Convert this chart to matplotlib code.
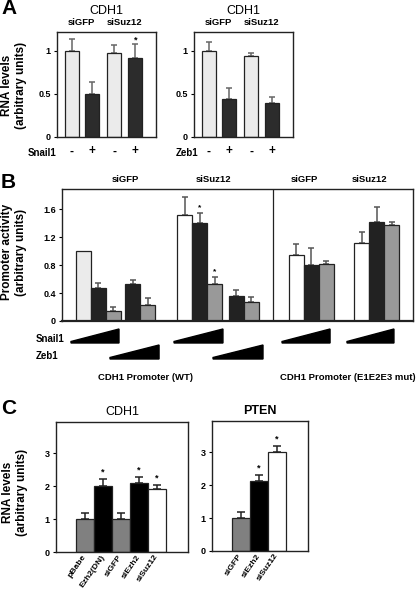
import matplotlib
matplotlib.use('Agg')
import matplotlib.pyplot as plt
from matplotlib.patches import Polygon

plt.rcParams['font.family'] = ['Liberation Sans', 'DejaVu Sans']
plt.rcParams['font.weight'] = 'bold'

# ---- data ----
# panel A: CDH1 RNA levels, siGFP -/+ and siSuz12 -/+
a_signs = ['-', '+', '-', '+']
a_snail = [1.0, 0.50, 0.98, 0.92]
a_snail_err = [0.14, 0.14, 0.09, 0.16]
a_zeb = [1.0, 0.44, 0.94, 0.40]
a_zeb_err = [0.10, 0.13, 0.04, 0.06]

# panel B: promoter activity, six bar groups
b_gfp_wt_snail = [1.0, 0.47, 0.14]
b_gfp_wt_snail_err = [0.0, 0.07, 0.06]
b_gfp_wt_zeb = [0.53, 0.23]
b_gfp_wt_zeb_err = [0.05, 0.10]
b_suz_wt_snail = [1.51, 1.40, 0.53]
b_suz_wt_snail_err = [0.26, 0.14, 0.10]
b_suz_wt_zeb = [0.36, 0.27]
b_suz_wt_zeb_err = [0.09, 0.08]
b_gfp_mut = [0.94, 0.80, 0.81]
b_gfp_mut_err = [0.16, 0.24, 0.05]
b_suz_mut = [1.11, 1.41, 1.37]
b_suz_mut_err = [0.16, 0.22, 0.04]

# panel C
c_labels = ['pBabe', 'Ezh2(DN)', 'siGFP', 'siEzh2', 'siSuz12']
c_cdh1 = [1.0, 2.0, 1.0, 2.1, 1.9]
c_cdh1_err = [0.18, 0.20, 0.18, 0.17, 0.13]
pten_labels = ['siGFP', 'siEzh2', 'siSuz12']
c_pten = [1.0, 2.12, 3.0]
c_pten_err = [0.17, 0.18, 0.18]

W, H = 416, 592
fig = plt.figure(figsize=(W / 100, H / 100), dpi=100)


def box(x0, y0, x1, y1):
    # pixel box -> figure fraction rect
    return [x0 / W, 1 - y1 / H, (x1 - x0) / W, (y1 - y0) / H]


def ftext(x, y, s, **kw):
    fig.text(x / W, 1 - y / H, s, **kw)


def bars(ax, xs, vals, errs, colors, width, cap=2.2, ecolor='#444444'):
    ax.bar(xs, vals, width=width, color=colors, edgecolor='#222222', linewidth=0.9, zorder=2)
    for x, v, e in zip(xs, vals, errs):
        if e > 0:
            ax.errorbar(x, v, yerr=[[0], [e]], fmt='none', ecolor=ecolor, elinewidth=1.1,
                        capsize=cap, capthick=1.1, zorder=1)


def style(ax, lw=1.0):
    for s in ax.spines.values():
        s.set_linewidth(lw)
        s.set_color('#222222')
    ax.tick_params(axis='y', length=2.5, width=0.8, labelsize=6.5, pad=2)


# ---------------- panel A ----------------
a_pos = [1.05, 2.5, 4.1, 5.6]
a_colors = ['#ebebeb', '#2c2c2c', '#ebebeb', '#2c2c2c']
for rect, vals, errs, name in [(box(57, 32, 156, 137), a_snail, a_snail_err, 'Snail1'),
                               (box(194, 32, 293, 137), a_zeb, a_zeb_err, 'Zeb1')]:
    ax = fig.add_axes(rect)
    bars(ax, a_pos, vals, errs, a_colors, 1.0, cap=2.2, ecolor='#666666')
    ax.set_xlim(0, 7.07)
    ax.set_ylim(0, 1.22)
    ax.set_yticks([0, 0.5, 1])
    ax.set_yticklabels(['0', '0.5', '1'])
    ax.set_xticks(a_pos)
    ax.set_xticklabels(a_signs, fontsize=8.5)
    ax.tick_params(axis='x', length=0, pad=6)
    style(ax)
    ax.text(0.5, 1.2, 'CDH1', transform=ax.transAxes, ha='center', va='center',
            fontsize=9, fontweight='normal')
    tr = ax.get_xaxis_transform()
    ax.text((a_pos[0] + a_pos[1]) / 2, 1.095, 'siGFP', transform=tr, ha='center', va='center', fontsize=6.8)
    ax.text((a_pos[2] + a_pos[3]) / 2, 1.095, 'siSuz12', transform=tr, ha='center', va='center', fontsize=6.8)
    if name == 'Snail1':
        ax.text(a_pos[3], vals[3] + errs[3] + 0.05, '*', ha='center', va='center', fontsize=6.5)
ftext(28, 153, 'Snail1', ha='left', va='center', fontsize=7)
ftext(176, 153, 'Zeb1', ha='left', va='center', fontsize=7)
ftext(14, 85, 'RNA levels\n(arbitrary units)', rotation=90, ha='center', va='center',
      fontsize=8.5, linespacing=1.25)
ftext(1, 9, 'A', ha='left', va='center', fontsize=15)

# ---------------- panel B ----------------
axB = fig.add_axes(box(62, 189, 413, 321))
gw = 1.0
group_starts = [0.93, 4.2, 7.67, 11.13, 15.13, 19.47]
b_groups = [
    (b_gfp_wt_snail, b_gfp_wt_snail_err, ['#ebebeb', '#222222', '#999999']),
    (b_gfp_wt_zeb, b_gfp_wt_zeb_err, ['#222222', '#999999']),
    (b_suz_wt_snail, b_suz_wt_snail_err, ['white', '#222222', '#999999']),
    (b_suz_wt_zeb, b_suz_wt_zeb_err, ['#222222', '#999999']),
    (b_gfp_mut, b_gfp_mut_err, ['white', '#222222', '#999999']),
    (b_suz_mut, b_suz_mut_err, ['white', '#222222', '#999999']),
]
for start, (vals, errs, cols) in zip(group_starts, b_groups):
    xs = [start + gw / 2 + i * gw for i in range(len(vals))]
    bars(axB, xs, vals, errs, cols, gw, cap=2.2, ecolor='#555555')
    if vals is b_suz_wt_snail:
        for i in (1, 2):
            axB.text(xs[i], vals[i] + errs[i] + 0.08, '*', ha='center', va='center', fontsize=6)
axB.axvline(14.07, color='#222222', lw=0.9)
axB.set_xlim(0, 23.4)
axB.set_ylim(0, 1.886)
axB.set_yticks([0, 0.4, 0.8, 1.2, 1.6])
axB.set_yticklabels(['0', '0.4', '0.8', '1.2', '1.6'])
axB.set_xticks([])
style(axB)
axB.spines['bottom'].set_linewidth(1.6)
trB = axB.get_xaxis_transform()
for x, s in [(4.2, 'siGFP'), (10.07, 'siSuz12'), (16.13, 'siGFP'), (20.53, 'siSuz12')]:
    axB.text(x, 1.07, s, transform=trB, ha='center', va='center', fontsize=6.8)

# wedges showing increasing Snail1 / Zeb1 amounts
wax = fig.add_axes(box(62, 325, 413, 362))
wax.set_xlim(0, 23.4)
wax.set_ylim(37, 0)
wax.axis('off')
snail_wedges = [(0.6, 3.8), (7.47, 10.73), (14.67, 17.87), (19.0, 22.13)]
zeb_wedges = [(3.2, 6.47), (10.07, 13.4)]
for (x0, x1), base in [(w, 18) for w in snail_wedges] + [(w, 34) for w in zeb_wedges]:
    wax.add_patch(Polygon([(x0, base), (x1, base), (x1, base - 14), (x0, base - 1.5)],
                          closed=True, color='black'))
ftext(36, 339, 'Snail1', ha='left', va='center', fontsize=7)
ftext(36, 356, 'Zeb1', ha='left', va='center', fontsize=7)
ftext(145, 377, 'CDH1 Promoter (WT)', ha='center', va='center', fontsize=6.8)
ftext(348, 377, 'CDH1 Promoter (E1E2E3 mut)', ha='center', va='center', fontsize=6.8)
ftext(14, 252, 'Promoter activity\n(arbitrary units)', rotation=90, ha='center', va='center',
      fontsize=8.5, linespacing=1.25)
ftext(1, 183, 'B', ha='left', va='center', fontsize=15)

# ---------------- panel C ----------------
for rect, labels, vals, errs, cols, title, tw in [
        (box(56, 422, 188, 552), c_labels, c_cdh1, c_cdh1_err,
         ['#808080', 'black', '#808080', 'black', 'white'], 'CDH1', 'normal'),
        (box(212, 421, 308, 551), pten_labels, c_pten, c_pten_err,
         ['#808080', 'black', 'white'], 'PTEN', 'bold')]:
    ax = fig.add_axes(rect)
    xs = [1.61 + i for i in range(len(vals))]
    bars(ax, xs, vals, errs, cols, 1.0, cap=3.2, ecolor='#222222')
    for x, v, e in zip(xs, vals, errs):
        if v > 1.5:
            ax.text(x, v + e + 0.22, '*', ha='center', va='center', fontsize=6.5)
    ax.set_xlim(0, rect[2] * W / 18)
    ax.set_ylim(0, 3.94)
    ax.set_yticks([0, 1, 2, 3])
    ax.set_xticks(xs)
    ax.set_xticklabels(labels, rotation=55, ha='right', va='center',
                       rotation_mode='anchor', fontsize=6.1)
    ax.tick_params(axis='x', length=0, pad=2.5)
    style(ax)
    ax.text(0.5, 1.08, title, transform=ax.transAxes, ha='center', va='center',
            fontsize=9, fontweight=tw)
ftext(15, 492, 'RNA levels\n(arbitrary units)', rotation=90, ha='center', va='center',
      fontsize=8.5, linespacing=1.25)
ftext(1, 408, 'C', ha='left', va='center', fontsize=15)

fig.savefig('out.png', dpi=100)
